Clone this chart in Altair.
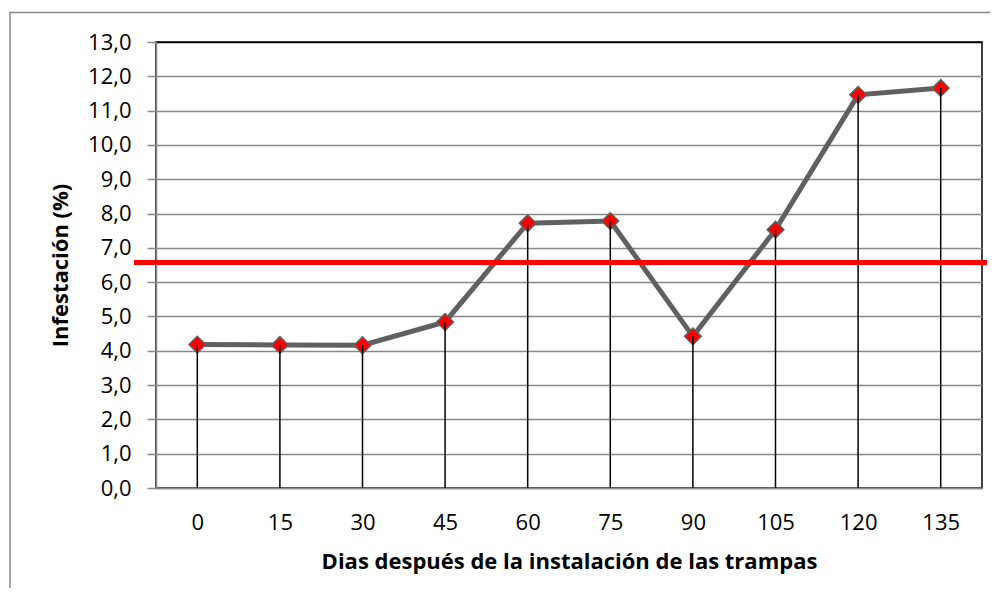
import altair as alt
import pandas as pd

dias = ["0", "15", "30", "45", "60", "75", "90", "105", "120", "135"]
infestacion = [4.18, 4.17, 4.16, 4.84, 7.72, 7.78, 4.42, 7.53, 11.46, 11.66]
umbral = [6.57]
y_ticks = list(range(0, 14))

W, H = 826, 446

df = pd.DataFrame({"dia": dias, "inf": infestacion, "cero": [0.0] * len(dias)})
df_u = pd.DataFrame({"u": umbral})

FONT = "Open Sans"
FS = 22

x_axis = alt.Axis(
    title="Dias después de la instalación de las trampas",
    labelAngle=0,
    ticks=False,
    domainColor="#888888",
    domainWidth=1.5,
    labelFontSize=FS,
    labelFont=FONT,
    labelColor="#000000",
    labelPadding=24,
    titleFontSize=FS,
    titleFont=FONT,
    titleFontWeight="bold",
    titleColor="#000000",
    titlePadding=18,
    grid=False,
)
x_scale = alt.Scale(type="point", padding=0.5)

y_scale = alt.Scale(domain=[0, 13], nice=False, zero=True)
y_axis = alt.Axis(
    title="Infestación (%)",
    values=y_ticks,
    tickCount=40,
    labelOverlap=False,
    labelExpr="replace(format(datum.value, '.1f'), '.', ',')",
    tickSize=9,
    tickColor="#888888",
    tickWidth=1.5,
    domainColor="#888888",
    domainWidth=1.5,
    grid=True,
    gridColor={"condition": {"test": "datum.value === 13", "value": "#000000"},
               "value": "#888888"},
    gridWidth=1.5,
    labelFontSize=FS,
    labelFont=FONT,
    labelColor="#000000",
    labelPadding=16,
    titleFontSize=FS,
    titleFont=FONT,
    titleFontWeight="bold",
    titleColor="#000000",
    titleX=-96,
    titleY=H / 2,
    titleAngle=270,
    titleBaseline="middle",
    titleAlign="center",
)

X = alt.X("dia:O", sort=dias, scale=x_scale, axis=x_axis)

base = alt.Chart(df)

frame = alt.Chart(df_u).mark_rect(
    fill=None, stroke="#888888", strokeWidth=1.5, clip=False
).encode(
    x=alt.value(-146), x2=alt.value(W + 60),
    y=alt.value(-29.5), y2=alt.value(H + 140),
)

line = base.mark_line(color="#606060", strokeWidth=5).encode(
    x=X, y=alt.Y("inf:Q", scale=y_scale, axis=y_axis),
)

pts = base.mark_point(
    shape="diamond", filled=True, fill="#ff0000", stroke="#606060",
    strokeWidth=1.5, size=280, opacity=1,
).encode(x=X, y=alt.Y("inf:Q", scale=y_scale, axis=y_axis))

drops = base.mark_rule(color="#000000", strokeWidth=1.5).encode(
    x=X, y=alt.Y("inf:Q", scale=y_scale, axis=y_axis), y2="cero:Q",
)

thr = alt.Chart(df_u).mark_rule(color="#ff0000", strokeWidth=5, clip=False).encode(
    y=alt.Y("u:Q", scale=y_scale, axis=y_axis),
    x=alt.value(-22), x2=alt.value(W + 5),
)

chart = (
    alt.layer(frame, line, pts, drops, thr)
    .properties(width=W, height=H, autosize=alt.AutoSizeParams(type="none"),
                background="#ffffff",
                padding={"left": 148, "top": 34, "right": 8, "bottom": 100})
    .configure_view(stroke="#000000", strokeWidth=1.5)
)

chart.save("out.html", embed_options={"renderer": "svg", "actions": False})
